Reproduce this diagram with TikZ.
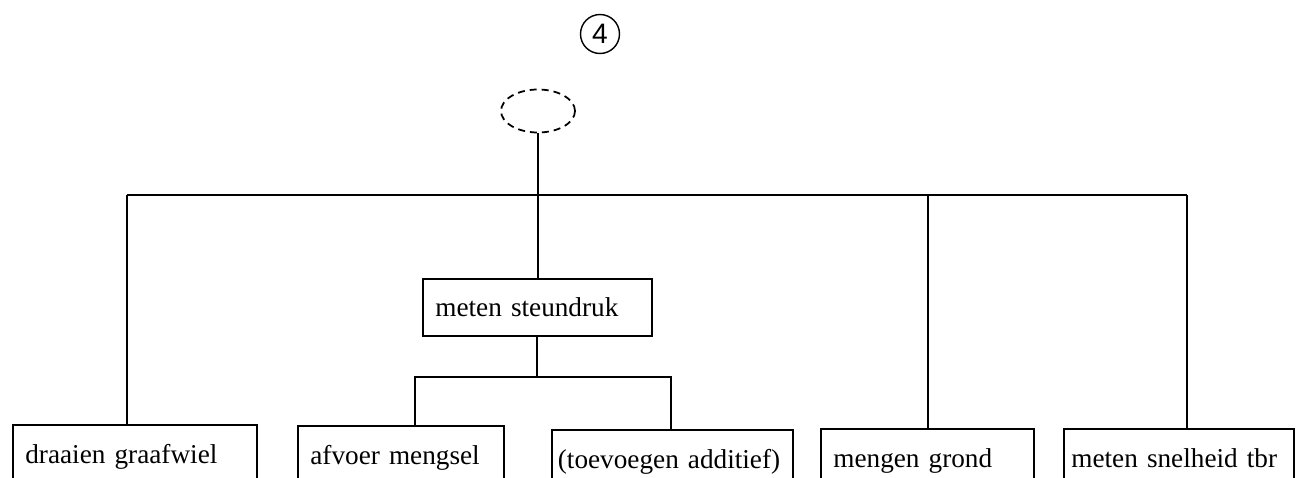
\documentclass[tikz,border=0pt]{standalone}
\usepackage{fontspec}
\setmainfont{Liberation Serif}
\newfontfamily\numfont{Liberation Sans}
\usetikzlibrary{shapes.geometric, positioning}
\tikzset{
    funct/.style={
        rectangle, draw=black, line width=1pt,
        anchor=north west, align=left, inner xsep=0.25cm,
        font=\fontsize{15.5}{19}\selectfont
    },
    leaf/.style={funct, inner ysep=0.2cm, text height=0.58cm, text depth=2cm},
    wire/.style={draw=black, line width=1pt},
    open/.style={
        ellipse, draw=black, line width=1pt,
        dash pattern=on 0.14cm off 0.1cm,
        minimum width=1.48cm, minimum height=0.86cm
    },
    tag/.style={
        circle, draw=black, line width=0.8pt, inner sep=0pt,
        minimum size=0.78cm, font=\numfont\fontsize{16}{16}\selectfont
    }
}

\begin{document}
\begin{tikzpicture}[x=0.02cm, y=-0.02cm]
\useasboundingbox (0,0) rectangle (1298,477);
\clip (0,0) rectangle (1298,477);

% number and top function
\node[tag] (nr) at (600,34) {4};
\node[open] (top) at (538,111) {};

% middle function
\node[funct, text width=4.08cm, minimum height=1.14cm] (steun) at (422,278) {meten steundruk};

% bottom functions
\node[leaf, text width=4.38cm] (graaf) at (12,424) {draaien graafwiel};
\node[leaf, text width=3.62cm] (afvoer) at (297,425) {afvoer mengsel};
\node[leaf, text width=4.58cm, inner xsep=0.12cm] (additief) at (551,429) {(toevoegen additief)};
\node[leaf, text width=3.76cm] (grond) at (820,428) {mengen grond};
\node[leaf, text width=4.3cm, inner xsep=0.15cm] (tbr) at (1063,428) {meten snelheid tbr};

% main bus
\coordinate (j1) at (127,195);
\coordinate (j4) at (928,195);
\coordinate (j5) at (1187,195);
\draw[wire] (j1) -- (j5);
\draw[wire] (top.south) -- (top.south |- steun.north);
\draw[wire] (j1) -- (j1 |- graaf.north);
\draw[wire] (j4) -- (j4 |- grond.north);
\draw[wire] (j5) -- (j5 |- tbr.north);

% sub bus
\coordinate (s2) at (415,377);
\coordinate (s3) at (671,377);
\draw[wire] (steun.south) -- (steun.south |- s2);
\draw[wire] (s2 |- afvoer.north) -- (s2) -- (s3) -- (s3 |- additief.north);

\end{tikzpicture}
\end{document}
